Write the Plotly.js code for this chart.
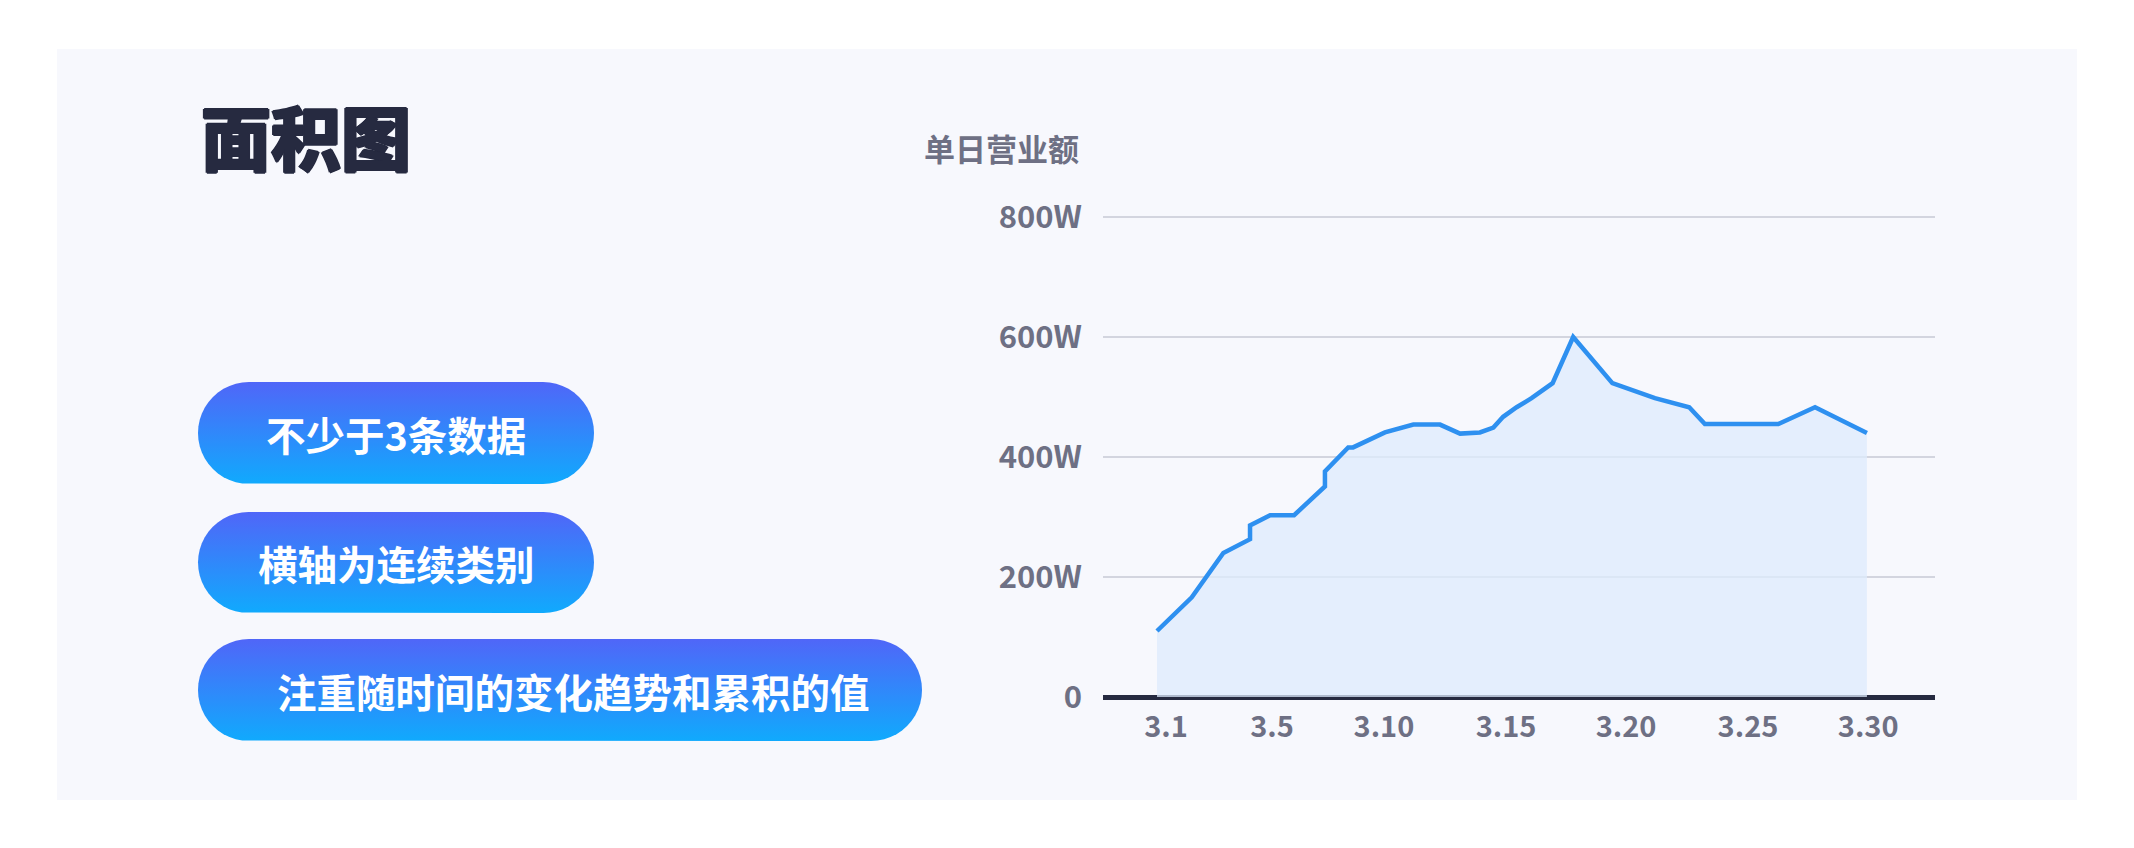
<!DOCTYPE html>
<html>
<head>
<meta charset="utf-8">
<script src="https://cdn.plot.ly/plotly-3.0.1.min.js"></script>
<style>
  html, body { margin: 0; padding: 0; background: #ffffff; }
  #chart { width: 2134px; height: 848px; }
</style>
</head>
<body>
<div id="chart"></div>
<script>
// daily revenue, x = position in days of March (some days have two readings)
const dayPos = [1.0, 2.42, 3.71, 4.8, 4.8, 5.62, 6.6, 7.86, 7.86, 8.81, 9.01, 10.31, 11.47, 12.56,
  13.38, 14.19, 14.74, 15.14, 15.69, 16.3, 17.16, 18.0, 19.6, 21.34, 22.74, 23.38, 26.38, 27.88, 30.0]
const revenue = [110, 166, 240, 263, 286, 303, 303, 351, 376, 416, 416, 441, 454, 454,
  439, 441, 449, 467, 483, 498, 523, 600, 523, 498, 483, 455, 455, 483, 440]

const xTickVals = [1.37, 5.7, 10.27, 15.26, 20.16, 25.14, 30.05]
const xTickText = ['3.1', '3.5', '3.10', '3.15', '3.20', '3.25', '3.30']
const yTickVals = [0, 200, 400, 600, 800]
const yTickText = ['0', '200W', '400W', '600W', '800W']

const pillLabels = ['不少于3条数据', '横轴为连续类别', '注重随时间的变化趋势和累积的值']

const W = 2134
const H = 848
const FONT = '"Noto Sans CJK SC", "Noto Sans", sans-serif'
const GREY = '#6e7084'
const NAVY = '#262a40'

// outline of a rounded pill in pixel space
function pillPath(x0, y0, x1, y1) {
  const r = (y1 - y0) / 2
  const xs = []
  const ys = []
  for (let i = 0; i <= 24; i++) {
    const a = -Math.PI / 2 + Math.PI * i / 24
    xs.push(x1 - r + r * Math.cos(a))
    ys.push(y0 + r + r * Math.sin(a))
  }
  for (let i = 0; i <= 24; i++) {
    const a = Math.PI / 2 + Math.PI * i / 24
    xs.push(x0 + r + r * Math.cos(a))
    ys.push(y0 + r + r * Math.sin(a))
  }
  xs.push(xs[0])
  ys.push(ys[0])
  return { xs, ys }
}

const pillBoxes = [
  { x0: 198, x1: 594, y0: 382, y1: 484, tx: 396 },
  { x0: 198, x1: 594, y0: 512, y1: 613, tx: 396 },
  { x0: 198, x1: 922, y0: 639, y1: 741, tx: 573 }
]

const traces = []

const area = {
  x: dayPos,
  y: revenue,
  type: 'scatter',
  mode: 'lines',
  fill: 'tozeroy',
  fillcolor: 'rgba(222, 235, 252, 0.75)',
  line: { color: '#2e90f0', width: 4.5 },
  hoverinfo: 'skip',
  xaxis: 'x',
  yaxis: 'y'
}
traces.push(area)

pillBoxes.forEach(b => {
  const p = pillPath(b.x0, b.y0, b.x1, b.y1)
  traces.push({
    x: p.xs,
    y: p.ys,
    type: 'scatter',
    mode: 'lines',
    fill: 'toself',
    line: { width: 0, color: 'rgba(0,0,0,0)' },
    // purple at the top, cyan at the bottom
    fillgradient: {
      type: 'vertical',
      colorscale: [[0, '#10aafd'], [1, '#5066f8']]
    },
    hoverinfo: 'skip',
    xaxis: 'x2',
    yaxis: 'y2'
  })
})

const annotations = [
  {
    text: '面积图', x: 199, y: 135, xref: 'x2', yref: 'y2',
    xanchor: 'left', yanchor: 'middle', showarrow: false,
    font: {
      family: FONT, size: 70, weight: 900, color: NAVY,
      shadow: '1.2px 0 0 #262a40, -1.2px 0 0 #262a40, 0 1.2px 0 #262a40, 0 -1.2px 0 #262a40'
    }
  },
  {
    text: '单日营业额', x: 1081, y: 147, xref: 'x2', yref: 'y2',
    xanchor: 'right', yanchor: 'middle', showarrow: false,
    font: { family: FONT, size: 31, weight: 'bold', color: GREY }
  }
]

pillBoxes.forEach((b, i) => {
  annotations.push({
    text: pillLabels[i], x: b.tx, y: (b.y0 + b.y1) / 2, xref: 'x2', yref: 'y2',
    xanchor: 'center', yanchor: 'middle', showarrow: false,
    font: { family: FONT, size: 39.5, weight: 'bold', color: '#ffffff' }
  })
})

const layout = {
  width: W,
  height: H,
  margin: { l: 0, r: 0, t: 0, b: 0, pad: 0 },
  paper_bgcolor: '#ffffff',
  plot_bgcolor: 'rgba(0,0,0,0)',
  showlegend: false,
  font: { family: FONT },
  shapes: [
    {
      type: 'rect', xref: 'paper', yref: 'paper', layer: 'below',
      x0: 57 / W, x1: 2077 / W, y0: 1 - 800 / H, y1: 1 - 49 / H,
      fillcolor: '#f7f8fd', line: { width: 0 }
    }
  ],
  annotations: annotations,
  xaxis: {
    domain: [1103 / W, 1935 / W],
    range: [-1.206, 32.78],
    showgrid: false,
    zeroline: false,
    showline: false,
    ticks: '',
    tickvals: xTickVals,
    ticktext: xTickText,
    ticklabelstandoff: 7,
    tickfont: { family: FONT, size: 29, weight: 'bold', color: GREY },
    fixedrange: true
  },
  yaxis: {
    domain: [1 - 700 / H, 1 - 214 / H],
    range: [-5, 805],
    showgrid: true,
    gridcolor: '#d3d5df',
    gridwidth: 2,
    zeroline: true,
    zerolinecolor: NAVY,
    zerolinewidth: 5,
    showline: false,
    ticks: '',
    tickvals: yTickVals,
    ticktext: yTickText,
    ticklabelstandoff: 20,
    tickfont: { family: FONT, size: 31, weight: 'bold', color: GREY },
    fixedrange: true
  },
  xaxis2: {
    domain: [0, 1], range: [0, W], anchor: 'y2', visible: false, fixedrange: true
  },
  yaxis2: {
    domain: [0, 1], range: [H, 0], anchor: 'x2', visible: false, fixedrange: true
  }
}

const config = {
  displaylogo: false,
  displayModeBar: false,
  staticPlot: true
}

Plotly.newPlot('chart', traces, layout, config)
</script>
</body>
</html>
